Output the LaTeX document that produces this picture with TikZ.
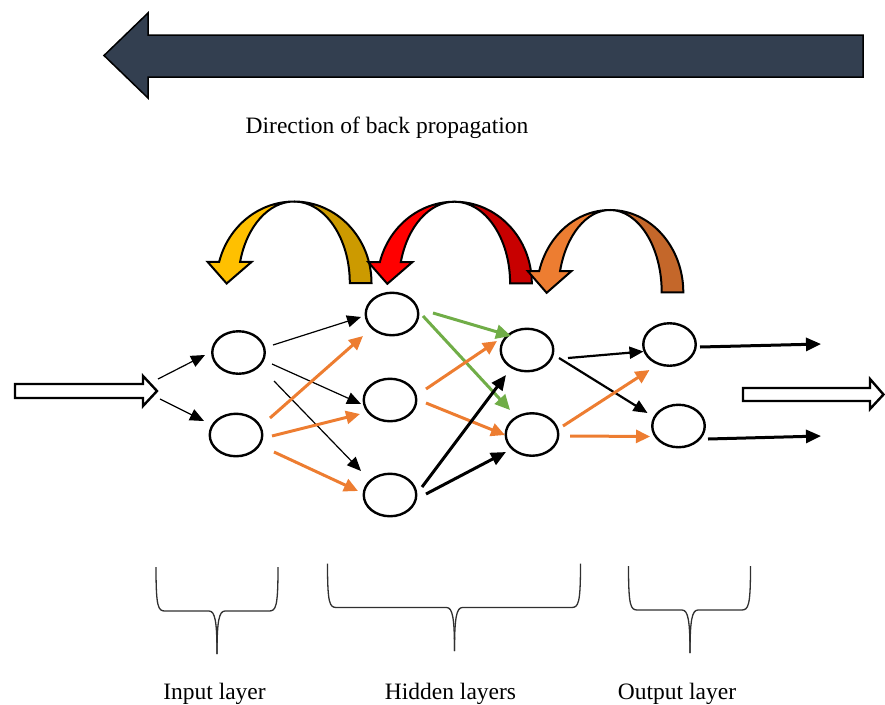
\documentclass[tikz,border=0pt]{standalone}
\usepackage{fontspec}
\setmainfont{Liberation Serif}
\usetikzlibrary{arrows.meta,calc,shapes.geometric}
\definecolor{slate}{HTML}{333F50}
\definecolor{yelL}{HTML}{FFC000}
\definecolor{yelD}{HTML}{CC9A00}
\definecolor{redL}{HTML}{FF0000}
\definecolor{redD}{HTML}{C80000}
\definecolor{orgL}{HTML}{ED7D31}
\definecolor{orgD}{HTML}{C4672A}
\definecolor{grn}{HTML}{70AD47}
\definecolor{org}{HTML}{ED7D31}
\definecolor{brc}{HTML}{303030}
\tikzset{
  neuron/.style={ellipse, draw, line width=2.4pt, minimum width=52.5pt, minimum height=42.5pt, inner sep=0pt},
  thinar/.style={line width=1.2pt, -{Triangle[length=14pt,width=12pt]}},
  orgar/.style={draw=org, line width=3pt, -{Triangle[length=14pt,width=13pt,fill=org]}},
  grnar/.style={draw=grn, line width=3pt, -{Triangle[length=15pt,width=14pt,fill=grn]}},
  blkar/.style={line width=3pt, -{Triangle[length=15pt,width=13pt]}},
  medar/.style={line width=2.2pt, -{Triangle[length=14pt,width=12pt]}},
  lbl/.style={font=\fontsize{23.5}{28}\selectfont, inner sep=0pt, anchor=base},
  hollow/.style={draw, fill=white, line width=2.4pt, line join=miter},
  curvestyle/.style={draw, line width=2pt, line join=miter},
  bracestyle/.style={draw=brc, line width=1.3pt}
}
% cx, yb, R, H, w, light, dark
\newcommand\bpcurve[7]{%
  \pgfmathsetmacro\bpri{#3-#5}%
  \pgfmathsetmacro\bpox{#1-0.9659*#3}%
  \pgfmathsetmacro\bpix{#1-0.9659*\bpri}%
  \pgfmathsetmacro\bphy{#2-0.2588*#4}%
  \pgfmathsetmacro\bptx{(\bpox+\bpix)/2-3}%
  \filldraw[curvestyle, fill=#7] (#1,#2-#4) arc[start angle=270,end angle=360,x radius=#3,y radius=#4]
     -- ++(-#5,0) arc[start angle=0,end angle=-90,x radius=\bpri,y radius=#4] -- cycle;
  \filldraw[curvestyle, fill=#6] (#1,#2-#4) arc[start angle=270,end angle=195,x radius=#3,y radius=#4]
     -- (\bpox-11.5,\bphy) -- (\bptx,#2+0.5) -- (\bpix+11.5,\bphy) -- (\bpix,\bphy)
     arc[start angle=195,end angle=270,x radius=\bpri,y radius=#4] -- cycle;
}
\newcommand\bpbrace[5]{% x1, x2, xm, ytop, ytip
  \draw[bracestyle] (#1,#4) .. controls (#1,#4+40) and (#1+2,#4+44) .. (#1+9,#4+44) -- (#3-8,#4+44)
     .. controls (#3-2,#4+44) and (#3,#4+54) .. (#3,#5);
  \draw[bracestyle] (#2,#4) .. controls (#2,#4+40) and (#2-2,#4+44) .. (#2-9,#4+44) -- (#3+8,#4+44)
     .. controls (#3+2,#4+44) and (#3,#4+54) .. (#3,#5);
}
\begin{document}
\begin{tikzpicture}[x=1pt,y=-1pt]
\useasboundingbox (0,0) rectangle (885,704);

% big back-propagation arrow
\filldraw[fill=slate, draw=black, line width=1.5pt, line join=miter]
  (104,55.5) -- (148,13) -- (148,35) -- (863,35) -- (863,77) -- (148,77) -- (148,98) -- cycle;
\node[lbl] (tDir) at (387,133) {Direction of back propagation};

% curved arrows
\bpcurve{294}{283}{77.5}{81.5}{21.7}{yelL}{yelD}
\bpcurve{454.5}{283.3}{77.3}{81.6}{21.7}{redL}{redD}
\bpcurve{610}{292.3}{73.3}{82.3}{21.6}{orgL}{orgD}

% input / output hollow arrows
\draw[hollow] (15,384) -- (143,384) -- (143,376) -- (157,391) -- (143,406) -- (143,398) -- (15,398) -- cycle;
\coordinate (inTip) at (157,391);
\draw[hollow] (743,388) -- (870,388) -- (870,379) -- (883.5,394.5) -- (870,409) -- (870,401) -- (743,401) -- cycle;

% neurons
\node[neuron] (N1) at (238.5,352.5) {};
\node[neuron] (N2) at (236,435) {};
\node[neuron] (H1) at (392,314) {};
\node[neuron] (H2) at (390,400) {};
\node[neuron] (H3) at (390,495) {};
\node[neuron] (G1) at (527,350) {};
\node[neuron] (G2) at (532,434.5) {};
\node[neuron] (O1) at (669.5,344.5) {};
\node[neuron] (O2) at (678.5,426) {};
\coordinate (e1) at (821,344);
\coordinate (e2) at (821,436);

% connectors
\draw[thinar] ($(inTip)+(1,-12)$) -- ($(N1)+(-33.5,2.5)$);
\draw[thinar] ($(inTip)+(3,8)$) -- ($(N2)+(-32,-14)$);
\draw[thinar] ($(N1)+(34.5,-7.5)$) -- ($(H1)+(-31,3)$);
\draw[thinar] ($(N1)+(33.5,11.5)$) -- ($(H2)+(-29,4)$);
\draw[thinar] ($(N1)+(35.5,28.5)$) -- ($(H3)+(-29,-24)$);
\draw[orgar] ($(N2)+(34,-17)$) -- ($(H1)+(-29,22)$);
\draw[orgar] ($(N2)+(36,1)$) -- ($(H2)+(-30,14)$);
\draw[orgar] ($(N2)+(38,17)$) -- ($(H3)+(-32,-4)$);
\draw[grnar] ($(H1)+(41,-1)$) -- ($(G1)+(-16,-14)$);
\draw[grnar] ($(H1)+(31,2)$) -- ($(G2)+(-22,-24.5)$);
\draw[orgar] ($(H2)+(36,-11)$) -- ($(G1)+(-30,-9)$);
\draw[orgar] ($(H2)+(36,3)$) -- ($(G2)+(-27,0.5)$);
\draw[blkar] ($(H3)+(32,-8)$) -- ($(G1)+(-21,25)$);
\draw[blkar] ($(H3)+(36,-1)$) -- ($(G2)+(-26,17.5)$);
\draw[medar] ($(G1)+(41,8)$) -- ($(O1)+(-26,7)$);
\draw[medar] ($(G1)+(32,8)$) -- ($(O2)+(-31,-13)$);
\draw[orgar] ($(G2)+(31,-8.5)$) -- ($(O1)+(-20,25.5)$);
\draw[orgar] ($(G2)+(38,1.5)$) -- ($(O2)+(-28.5,10.5)$);
\draw[blkar] ($(O1)+(30.5,2.5)$) -- (e1);
\draw[blkar] ($(O2)+(29.5,13)$) -- (e2);

% braces
\bpbrace{156}{278}{217}{567}{654}
\bpbrace{327.5}{580.5}{454.5}{563.5}{651}
\bpbrace{628.5}{750.5}{690}{566}{653}

% labels
\node[lbl] (tIn) at (214.5,699) {Input layer};
\node[lbl] (tHid) at (450.5,699) {Hidden layers};
\node[lbl] (tOut) at (677,699) {Output layer};
\end{tikzpicture}
\end{document}
